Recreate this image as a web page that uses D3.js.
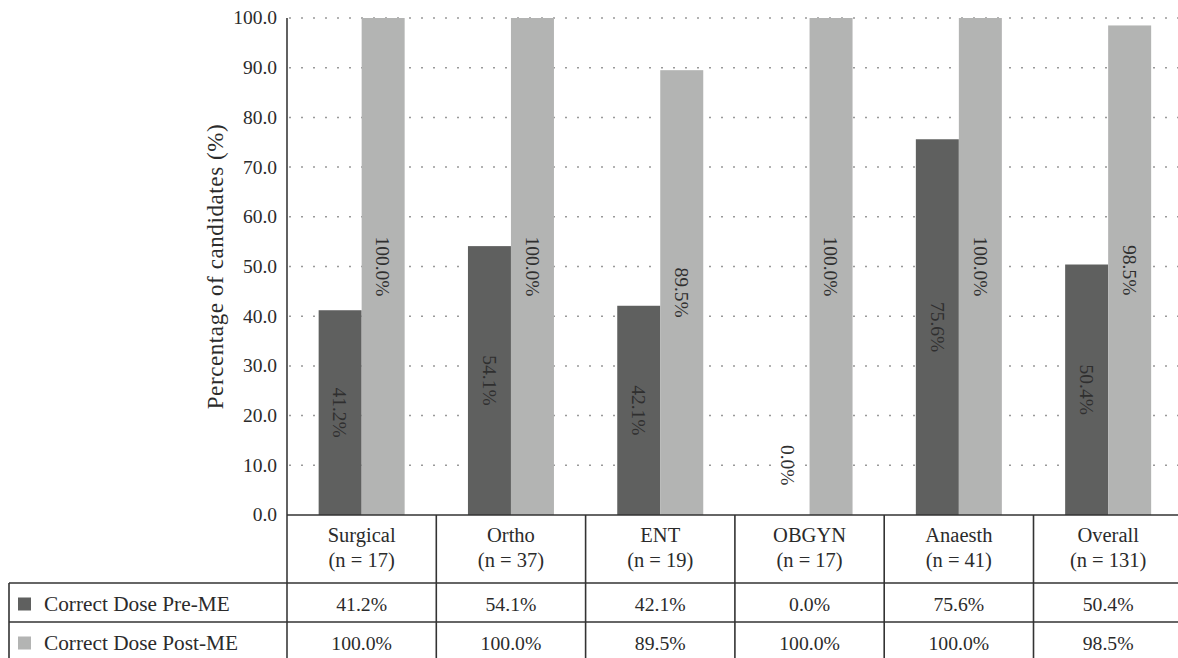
<!DOCTYPE html>
<html lang="en">
<head>
    <meta charset="UTF-8">
    <title>Correct Dose Pre/Post ME</title>
    <script src="https://cdnjs.cloudflare.com/ajax/libs/d3/7.8.5/d3.min.js"></script>
    <style>
        html, body { margin: 0; padding: 0; background: #fff; overflow: hidden; }
        svg text { font-family: "Liberation Serif", "Times New Roman", serif; fill: #2b2b2b; }
    </style>
</head>
<body>
    <svg id="chart" width="1178" height="658"></svg>

    <script>
        // Data
        const departments = ["Surgical", "Ortho", "ENT", "OBGYN", "Anaesth", "Overall"];
        const sampleSizes = [17, 37, 19, 17, 41, 131];
        const seriesNames = ["Correct Dose Pre-ME", "Correct Dose Post-ME"];
        const preME = [41.2, 54.1, 42.1, 0.0, 75.6, 50.4];
        const postME = [100.0, 100.0, 89.5, 100.0, 100.0, 98.5];
        const yTicks = [0, 10, 20, 30, 40, 50, 60, 70, 80, 90, 100];
        const colors = ["#5f605f", "#b3b4b3"];

        const svg = d3.select("#chart");

        // Layout
        const axisX = 287, colW = 149.3;
        const plotTop = 18, plotBottom = 515;
        const row0 = 583, row1 = 622, row2 = 661;
        const tableLeft = 9;

        const x0 = d3.scaleBand()
            .domain(departments)
            .range([axisX, axisX + colW * departments.length])
            .paddingInner(0).paddingOuter(0);

        const x1 = d3.scaleBand()
            .domain(seriesNames)
            .range([0, x0.bandwidth()])
            .paddingInner(0)
            .paddingOuter(0.736);

        const y = d3.scaleLinear().domain([0, 100]).range([plotBottom, plotTop]);

        // dotted gridlines
        svg.append("g")
            .selectAll("line")
            .data(yTicks.filter(d => d > 0))
            .enter()
            .append("line")
            .attr("x1", axisX + 2)
            .attr("x2", 1178)
            .attr("y1", d => y(d))
            .attr("y2", d => y(d))
            .attr("stroke", "#999")
            .attr("stroke-width", 1.5)
            .attr("stroke-dasharray", "2 10");

        // bars
        const rows = departments.map((d, i) => ({ dep: d, values: [preME[i], postME[i]] }));

        const groups = svg.append("g")
            .selectAll("g")
            .data(rows)
            .enter()
            .append("g")
            .attr("transform", d => `translate(${x0(d.dep)},0)`);

        groups.selectAll("rect")
            .data(d => d.values.map((v, k) => ({ v, k })))
            .enter()
            .append("rect")
            .attr("x", d => x1(seriesNames[d.k]))
            .attr("width", x1.bandwidth())
            .attr("y", d => y(d.v))
            .attr("height", d => y(0) - y(d.v))
            .attr("fill", d => colors[d.k]);

        // rotated value labels inside the bars
        groups.selectAll("text")
            .data(d => d.values.map((v, k) => ({ v, k })))
            .enter()
            .append("text")
            .attr("transform", d => {
                const cx = x1(seriesNames[d.k]) + x1.bandwidth() / 2;
                const cy = d.v > 0 ? y(d.v / 2) : y(10);
                return `translate(${cx},${cy}) rotate(90)`;
            })
            .attr("text-anchor", "middle")
            .attr("dy", "0.35em")
            .style("font-size", "19.5px")
            .style("fill", "#2f2f2f")
            .text(d => d.v.toFixed(1) + "%");

        // y axis: line + labels
        svg.append("line")
            .attr("x1", axisX).attr("x2", axisX)
            .attr("y1", plotTop).attr("y2", 658)
            .attr("stroke", "#3a3a3a").attr("stroke-width", 1.6);

        svg.append("g")
            .selectAll("text")
            .data(yTicks)
            .enter()
            .append("text")
            .attr("x", axisX - 10)
            .attr("y", d => y(d))
            .attr("dy", "0.33em")
            .attr("text-anchor", "end")
            .style("font-size", "19.5px")
            .text(d => d3.format(".1f")(d));

        svg.append("text")
            .attr("transform", `translate(223,${(plotTop + plotBottom) / 2}) rotate(-90)`)
            .attr("text-anchor", "middle")
            .style("font-size", "23px")
            .style("letter-spacing", "0.6px")
            .text("Percentage of candidates (%)");

        // data table below the chart
        const table = svg.append("g");
        const lineColor = "#333";

        table.append("line")
            .attr("x1", axisX).attr("x2", 1178)
            .attr("y1", plotBottom).attr("y2", plotBottom)
            .attr("stroke", lineColor).attr("stroke-width", 1.6);

        [row0, row1].forEach(r => {
            table.append("line")
                .attr("x1", tableLeft).attr("x2", 1178)
                .attr("y1", r).attr("y2", r)
                .attr("stroke", lineColor).attr("stroke-width", 1.6);
        });

        table.append("line")
            .attr("x1", tableLeft).attr("x2", tableLeft)
            .attr("y1", row0).attr("y2", row2)
            .attr("stroke", lineColor).attr("stroke-width", 1.6);

        table.selectAll(".vline")
            .data(departments.slice(1))
            .enter()
            .append("line")
            .attr("x1", d => x0(d)).attr("x2", d => x0(d))
            .attr("y1", plotBottom).attr("y2", row2)
            .attr("stroke", lineColor).attr("stroke-width", 1.6);

        // header cells
        const header = table.selectAll(".head")
            .data(departments)
            .enter()
            .append("text")
            .attr("text-anchor", "middle")
            .style("font-size", "20.5px");
        header.append("tspan")
            .attr("x", d => x0(d) + x0.bandwidth() / 2)
            .attr("y", 542)
            .text(d => d);
        header.append("tspan")
            .attr("x", d => x0(d) + x0.bandwidth() / 2)
            .attr("y", 567)
            .text((d, i) => `(n = ${sampleSizes[i]})`);

        // value rows with legend swatches
        const valueRows = [preME, postME];
        const rowTops = [row0, row1];
        valueRows.forEach((vals, k) => {
            const mid = rowTops[k] + (row1 - row0) / 2;
            table.append("rect")
                .attr("x", 18).attr("y", mid - 5)
                .attr("width", 13).attr("height", 13)
                .attr("fill", colors[k]);
            table.append("text")
                .attr("x", 44).attr("y", mid)
                .attr("dy", "0.4em")
                .style("font-size", "21.3px")
                .text(seriesNames[k]);
            table.selectAll(".v" + k)
                .data(vals)
                .enter()
                .append("text")
                .attr("x", (d, i) => x0(departments[i]) + x0.bandwidth() / 2)
                .attr("y", mid)
                .attr("dy", "0.45em")
                .attr("text-anchor", "middle")
                .style("font-size", "19.7px")
                .text(d => d.toFixed(1) + "%");
        });
    </script>
</body>
</html>
